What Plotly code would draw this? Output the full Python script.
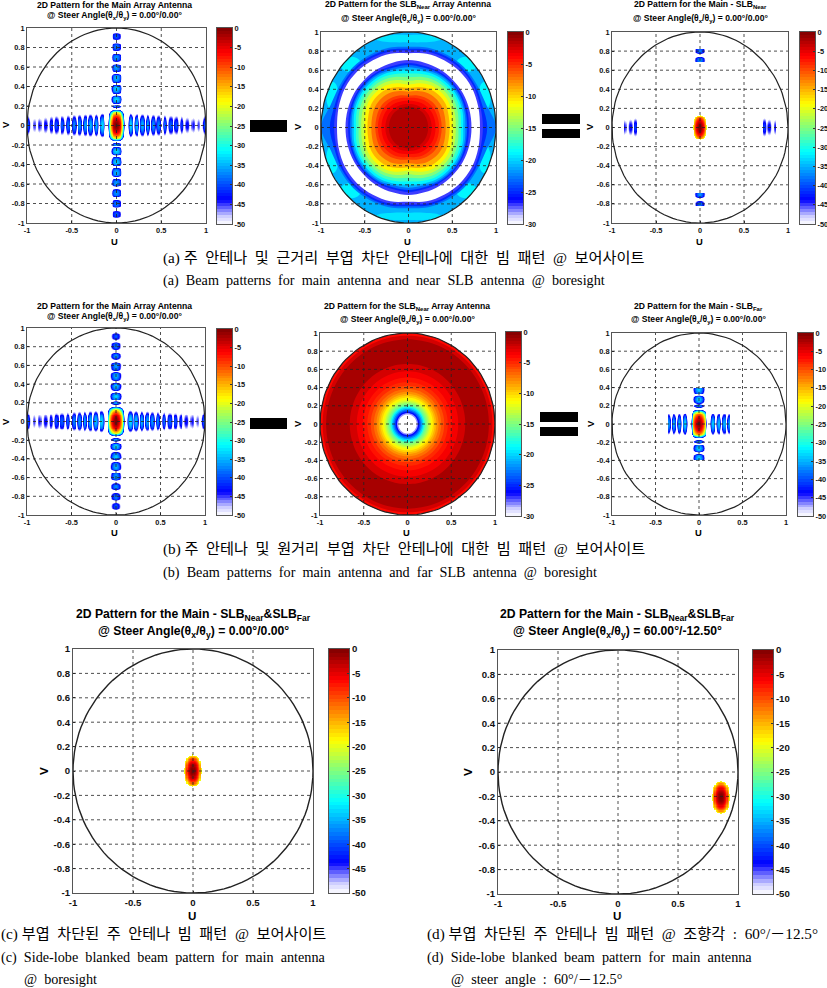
import numpy as np
import plotly.graph_objects as go

W, H = 827, 988

# ---- data ----------------------------------------------------------------
# Main array principal-plane cuts (dB), sampled every 0.01 from 0 to 1
U_CUT_DB = [0,-.35,-1.3,-3,-5.3,-8.7,-13,-19.5,-30,-45,
 -60,-60,-60,-46,-38,-34,-33,-34,-38,-52,
 -46,-38,-35,-34.5,-37,-44,-60,-40,-36,-35,
 -36,-41,-60,-42,-37,-36,-37,-43,-60,-42,
 -37.5,-36.5,-38,-44,-60,-44,-39,-37.5,-38,-42,
 -55,-60,-45,-40,-38.5,-39,-44,-60,-46,-41,
 -39.5,-39.5,-41,-47,-60,-43,-41,-40,-41,-46,
 -60,-45,-42,-41,-42,-47,-60,-46,-43.5,-43,
 -44,-48,-60,-60,-46,-45,-44,-45,-50,-60,
 -47,-45.5,-45,-46,-60,-60,-48,-43,-40,-40,-45]
V_CUT_DB = [0,-.1,-.4,-.95,-1.7,-2.6,-3.7,-5,-6.5,-8.3,
 -10.4,-13,-16,-19.8,-28,-37,-55,-60,-42,-36,
 -37,-45,-60,-42,-37,-35,-34,-33,-34,-35,
 -39,-47,-60,-42,-38,-36,-35,-34,-33.5,-34.5,
 -36,-41,-50,-60,-42,-38,-36.5,-35.5,-35,-35,
 -35.5,-37,-43,-60,-60,-42,-38.5,-37,-36.5,-36,
 -36,-36.5,-39,-46,-60,-60,-44,-40,-37.5,-37,
 -36.5,-37,-38,-42,-52,-60,-60,-43,-40,-38.5,
 -38,-38,-38.5,-40,-46,-60,-60,-60,-44,-41,
 -40,-39.5,-40,-41,-45,-60,-60,-60,-60,-60,-60]
BEAM_CENTER_D = (0.86, -0.214)

# SLB near: contour radius by contour level and angle (first quadrant)
NEAR_ANGLES_DEG = [0,15,30,45,60,75,90]
NEAR_LEVELS_DB = [-23,-25,-27,-30,-27,-25,-23,-21,-19,-17,-15,-13,-11,-9,-7,-5.5,-4.5,-3.5,-2.5,-1.5]
NEAR_RADII = [
 [1.0,.92,.90,.895,.88,.865,.845],
 [.90,.875,.88,.875,.86,.845,.825],
 [.85,.85,.86,.855,.84,.825,.805],
 [.817,.826,.835,.829,.814,.80,.777],
 [.72,.72,.718,.71,.706,.703,.707],
 [.69,.695,.695,.69,.68,.67,.675],
 [.67,.675,.68,.675,.665,.65,.655],
 [.65,.66,.665,.66,.65,.63,.63],
 [.625,.64,.645,.64,.63,.61,.60],
 [.60,.615,.625,.615,.605,.58,.565],
 [.57,.585,.595,.59,.575,.55,.526],
 [.54,.55,.565,.56,.545,.515,.49],
 [.505,.515,.53,.525,.51,.48,.45],
 [.47,.475,.49,.485,.47,.44,.415],
 [.425,.43,.44,.435,.42,.395,.375],
 [.38,.38,.385,.38,.365,.35,.335],
 [.35,.35,.35,.345,.335,.32,.31],
 [.31,.31,.31,.305,.295,.285,.28],
 [.265,.265,.265,.26,.255,.25,.245],
 [.225,.225,.225,.225,.222,.22,.22]]
NEAR_BASE_DB = -21
NEAR_SPOT_U = [0.10, 0.66, 0.87]
NEAR_SPOT_V = [0.93, 0.66, 0.33]
NEAR_SPOT_RU = [0.28, 0.12, 0.07]
NEAR_SPOT_RV = [0.04, 0.08, 0.15]
NEAR_SPOT_DB = [-19.5, -19, -19]

# SLB far: concentric contours
FAR_LEVELS_DB = [-4,-2.5,-1.2,-2.5,-3.5,-4.3,-5,-6,-7,-8,-9,-10,-11,-12,-13,-14,-15,-16,-18,-20,-22,-24,-26,-28,-30]
FAR_RADII = [1.0,.97,.93,.66,.58,.51,.46,.42,.385,.355,.33,.31,.29,.27,.255,.24,.225,.21,.195,.18,.165,.15,.135,.12,.105]

X_TICKS = [-1,-0.5,0,0.5,1]
Y_TICKS = [-1,-0.8,-0.6,-0.4,-0.2,0,0.2,0.4,0.6,0.8,1]
CB_TICKS_50 = [0,-5,-10,-15,-20,-25,-30,-35,-40,-45,-50]
CB_TICKS_30 = [0,-5,-10,-15,-20,-25,-30]

CAP_A_KO = "(a) 주  안테나  및  근거리  부엽  차단  안테나에  대한  빔  패턴  @  보어사이트"
CAP_A_EN = "(a)  Beam  patterns  for  main  antenna  and  near  SLB  antenna  @  boresight"
CAP_B_KO = "(b) 주  안테나  및  원거리  부엽  차단  안테나에  대한  빔  패턴  @  보어사이트"
CAP_B_EN = "(b)  Beam  patterns  for  main  antenna  and  far  SLB  antenna  @  boresight"
CAP_C_KO = "(c) 부엽  차단된  주  안테나  빔  패턴  @  보어사이트"
CAP_C_EN = "(c)  Side-lobe  blanked  beam  pattern  for  main  antenna"
CAP_C_EN2 = "@  boresight"
CAP_D_KO = "(d) 부엽  차단된  주  안테나  빔  패턴  @  조향각  :  60°/－12.5°"
CAP_D_EN = "(d)  Side-lobe  blanked  beam  pattern  for  main  antenna"
CAP_D_EN2 = "@  steer  angle  :  60°/－12.5°"

# ---- colour map (jet with a white foot) ----------------------------------
CMAP_T = [0, .04, .08, .125, .375, .625, .875, 1]
CMAP_RGB = [(255,255,255),(205,205,255),(110,110,255),(0,0,255),(0,255,255),(255,255,0),(255,0,0),(127,0,0)]

def cmap(t):
    t = min(max(t, 0), 1)
    c = [np.interp(t, CMAP_T, [p[i] for p in CMAP_RGB]) for i in range(3)]
    return "rgb(%d,%d,%d)" % tuple(c)

COLORSCALE = [[i/128, cmap(i/128)] for i in range(129)]
SERIF = "Liberation Serif, Noto Sans CJK KR"
SANS = "Liberation Sans, Arial"

fig = go.Figure()
layout = {}
annotations = []
shapes = []

def px_x(x): return x / W
def px_y(y): return 1 - y / H

def text(x, y, s, size, family=SANS, anchor="center", angle=0, color="#000"):
    annotations.append(dict(xref="paper", yref="paper", x=px_x(x), y=px_y(y), text=s, showarrow=False,
                            xanchor=anchor, yanchor="middle", textangle=angle, borderpad=0,
                            font=dict(family=family, size=size, color=color)))

def block(x0, y0, x1, y1):
    shapes.append(dict(type="rect", xref="paper", yref="paper", x0=px_x(x0), x1=px_x(x1),
                       y0=px_y(y1), y1=px_y(y0), fillcolor="#000", line=dict(width=0), layer="above"))

def main_field(center=(0, 0)):
    u = np.arange(-100, 101) / 100
    uc, vc = np.array(U_CUT_DB), np.array(V_CUT_DB)
    iu = np.rint(np.abs(u - center[0]) * 100).astype(int).clip(0, 100)
    iv = np.rint(np.abs(u - center[1]) * 100).astype(int).clip(0, 100)
    z = vc[iv][:, None] + uc[iu][None, :]
    z[np.add.outer(u**2, u**2) > 1] = np.nan
    z[z < -50] = np.nan
    return u, z

def polygon(n, r_fun, level, vmin, step=15):
    ang = np.radians(np.arange(0, 360 + step, step))
    r = np.array([min(r_fun(a), 1.0) for a in ang])
    fig.add_trace(go.Scatter(x=r*np.cos(ang), y=r*np.sin(ang), mode="lines", fill="toself",
                             line=dict(width=0, shape="spline", smoothing=1.0),
                             fillcolor=cmap((level - vmin) / -vmin),
                             xaxis=f"x{n}", yaxis=f"y{n}", hoverinfo="skip", showlegend=False))

def near_radius(row):
    def f(a):
        d = np.degrees(a) % 180
        d = 180 - d if d > 90 else d
        return float(np.interp(d, NEAR_ANGLES_DEG, row))
    return f

def panel(n, box, cbox, vmin, draw, tick_size, line_w=1.2):
    x0, y0, x1, y1 = box
    i, j = 2*n - 1, 2*n
    layout[f"xaxis{i}"] = dict(domain=[px_x(x0), px_x(x1)], range=[-1, 1], anchor=f"y{i}", tickmode="array",
        tickvals=X_TICKS, ticktext=[str(t) for t in X_TICKS], ticks="inside", ticklen=2, tickcolor="#333",
        showgrid=False, zeroline=False, showline=True, mirror=True, linecolor="#555", linewidth=1,
        tickfont=dict(family=SANS, size=tick_size, color="#111", weight=700), tickangle=0)
    layout[f"yaxis{i}"] = dict(domain=[px_y(y1), px_y(y0)], range=[-1, 1], anchor=f"x{i}", tickmode="array",
        tickvals=Y_TICKS, ticktext=[str(t) for t in Y_TICKS], ticks="inside", ticklen=2, tickcolor="#333",
        showgrid=False, zeroline=False, showline=True, mirror=True, linecolor="#555", linewidth=1,
        tickfont=dict(family=SANS, size=tick_size, color="#111", weight=700))
    draw(i)
    ang = np.radians(np.arange(0, 361, 3))
    fig.add_trace(go.Scatter(x=np.cos(ang), y=np.sin(ang), mode="lines", line=dict(color="#222", width=line_w),
                             xaxis=f"x{i}", yaxis=f"y{i}", hoverinfo="skip", showlegend=False))
    for t in X_TICKS[1:-1]:
        shapes.append(dict(type="line", xref=f"x{i}", yref=f"y{i}", x0=t, x1=t, y0=-1, y1=1,
                           line=dict(color="#222", width=.8, dash="dot"), layer="above"))
    for t in Y_TICKS[1:-1]:
        shapes.append(dict(type="line", xref=f"x{i}", yref=f"y{i}", x0=-1, x1=1, y0=t, y1=t,
                           line=dict(color="#222", width=.8, dash="dot"), layer="above"))
    # colour bar as its own small heat map
    cx0, cy0, cx1, cy1 = cbox
    levels = vmin + (np.arange(64) + .5) * (-vmin) / 64
    ticks = CB_TICKS_30 if vmin == -30 else CB_TICKS_50
    fig.add_trace(go.Heatmap(x=[0, 1], y=levels, z=np.column_stack([levels, levels]), zmin=vmin, zmax=0,
                             colorscale=COLORSCALE, showscale=False, xaxis=f"x{j}", yaxis=f"y{j}", hoverinfo="skip"))
    layout[f"xaxis{j}"] = dict(domain=[px_x(cx0), px_x(cx1)], range=[0, 1], anchor=f"y{j}", showticklabels=False,
        ticks="", showgrid=False, zeroline=False, showline=True, mirror=True, linecolor="#555", linewidth=1)
    layout[f"yaxis{j}"] = dict(domain=[px_y(cy1), px_y(cy0)], range=[vmin, 0], anchor=f"x{j}", side="right",
        tickmode="array", tickvals=ticks, ticktext=[str(t) for t in ticks], ticks="inside", ticklen=2, tickcolor="#333",
        showgrid=False, zeroline=False, showline=True, mirror=True, linecolor="#555", linewidth=1,
        tickfont=dict(family=SANS, size=tick_size, color="#111", weight=700))

def heat(i, z, u):
    fig.add_trace(go.Heatmap(x=u, y=u, z=z, zmin=-50, zmax=0, colorscale=COLORSCALE, showscale=False,
                             xaxis=f"x{i}", yaxis=f"y{i}", hoverinfo="skip"))

def draw_main(i):
    u, z = main_field()
    heat(i, z, u)

def draw_minus_near(i):
    u, z = main_field()
    uu, vv = np.meshgrid(u, u)
    keep = (z >= -20) & (np.abs(uu) < .1) & (np.abs(vv) < .2)
    keep |= (np.abs(uu) > .71) & (np.abs(uu) < .87)
    keep |= (np.abs(vv) > .68) & (np.abs(vv) < .83)
    z = np.where(keep, z, np.nan)
    heat(i, z, u)

def draw_minus_far(i):
    u, z = main_field()
    uu, vv = np.meshgrid(u, u)
    z = np.where((np.abs(uu) < .36) & (np.abs(vv) < .40), z, np.nan)
    heat(i, z, u)

def draw_blanked(center):
    def f(i):
        u, z = main_field(center)
        z = np.where(z >= -20, z, np.nan)
        heat(i, z, u)
    return f

def draw_near(i):
    polygon(i, lambda a: 1.0, NEAR_BASE_DB, -30, step=5)
    for su, sv, ru, rv, lv in zip(NEAR_SPOT_U, NEAR_SPOT_V, NEAR_SPOT_RU, NEAR_SPOT_RV, NEAR_SPOT_DB):
        for sx in [1, -1]:
            for sy in [1, -1]:
                ang = np.radians(np.arange(0, 375, 15))
                x = sx*su + ru*np.cos(ang)
                y = sy*sv + rv*np.sin(ang)
                r = np.hypot(x, y); k = np.minimum(1, 1/r)
                fig.add_trace(go.Scatter(x=x*k, y=y*k, mode="lines", fill="toself",
                    line=dict(width=0, shape="spline"), fillcolor=cmap((lv+30)/30),
                    xaxis=f"x{i}", yaxis=f"y{i}", hoverinfo="skip", showlegend=False))
    for lv, row in zip(NEAR_LEVELS_DB, NEAR_RADII):
        polygon(i, near_radius(row), lv, -30)

def draw_far(i):
    for lv, rad in zip(FAR_LEVELS_DB, FAR_RADII):
        polygon(i, lambda a, r=rad: r, lv, -30, step=5)

S, L = 7.4, 9.6
panel(1, (27,28,206,223), (217,28,232,224), -50, draw_main, S)
panel(2, (321,32,496,223), (508,32,523,224), -30, draw_near, S)
panel(3, (612,32,788,223), (800,32,815,224), -50, draw_minus_near, S)
panel(4, (27,328,205,515), (217,329,232,515), -50, draw_main, S)
panel(5, (320,333,495,515), (506,332,521,516), -30, draw_far, S)
panel(6, (612,333,786,515), (798,333,813,516), -50, draw_minus_far, S)
panel(7, (73,649,313,893), (329,649,349,893), -50, draw_blanked((0,0)), L, 1.4)
panel(8, (498,650,738,894), (753,650,773,894), -50, draw_blanked(BEAM_CENTER_D), L, 1.4)

SUBX = "(θ<sub>x</sub>/θ<sub>y</sub>)"
STEER0 = f"<b>@ Steer Angle{SUBX} = 0.00°/0.00°</b>"
STEER1 = f"<b>@ Steer Angle{SUBX} = 60.00°/-12.50°</b>"
T_S, T_L = 8.6, 12.2
text(115, 5, "<b>2D Pattern for the Main Array Antenna</b>", T_S); text(115, 15, STEER0, T_S)
text(408, 5, "<b>2D Pattern for the SLB<sub>Near</sub> Array Antenna</b>", T_S); text(408, 18, STEER0, T_S)
text(700, 5, "<b>2D Pattern for the Main - SLB<sub>Near</sub></b>", T_S); text(700, 18, STEER0, T_S)
text(115, 306, "<b>2D Pattern for the Main Array Antenna</b>", T_S); text(115, 316, STEER0, T_S)
text(407, 306, "<b>2D Pattern for the SLB<sub>Near</sub> Array Antenna</b>", T_S); text(407, 319, STEER0, T_S)
text(698, 306, "<b>2D Pattern for the Main - SLB<sub>Far</sub></b>", T_S); text(698, 319, STEER0, T_S)
text(193, 615, "<b>2D Pattern for the Main - SLB<sub>Near</sub>&SLB<sub>Far</sub></b>", T_L); text(193, 632, STEER0, T_L)
text(617, 615, "<b>2D Pattern for the Main - SLB<sub>Near</sub>&SLB<sub>Far</sub></b>", T_L); text(617, 632, STEER1, T_L)

for x, y, sz in [(115,241,S+2),(407,241,S+2),(699,241,S+2),(115,532,S+2),(406,532,S+2),(698,532,S+2),(192,915,L+2),(617,915,L+2)]:
    text(x, y, "<b>U</b>", sz)
for x, y, sz in [(5,125,S+2),(298,127,S+2),(590,127,S+2),(5,422,S+2),(297,424,S+2),(590,424,S+2),(43,771,L+2),(467,772,L+2)]:
    text(x, y, "<b>V</b>", sz, angle=-90)

KO, EN = 15.2, 14.2
text(162, 258, CAP_A_KO, KO, SERIF, "left"); text(162, 281, CAP_A_EN, EN, SERIF, "left")
text(162, 549, CAP_B_KO, KO, SERIF, "left"); text(162, 572, CAP_B_EN, EN, SERIF, "left")
text(0, 934, CAP_C_KO, KO, SERIF, "left"); text(0, 957, CAP_C_EN, EN, SERIF, "left"); text(23, 979, CAP_C_EN2, EN, SERIF, "left")
text(426, 934, CAP_D_KO, KO, SERIF, "left"); text(426, 957, CAP_D_EN, EN, SERIF, "left"); text(450, 979, CAP_D_EN2, EN, SERIF, "left")

block(250,120,287,132); block(542,114,580,124); block(542,129,580,138)
block(250,418,287,429); block(540,412,578,422); block(540,427,578,436)

fig.update_layout(template="none", width=W, height=H, margin=dict(l=0, r=0, t=0, b=0), paper_bgcolor="white", plot_bgcolor="white",
                  showlegend=False, annotations=annotations, shapes=shapes, **layout)
fig.write_html("out.html", config={"displayModeBar": False}, post_script="document.body.style.margin='0';")
